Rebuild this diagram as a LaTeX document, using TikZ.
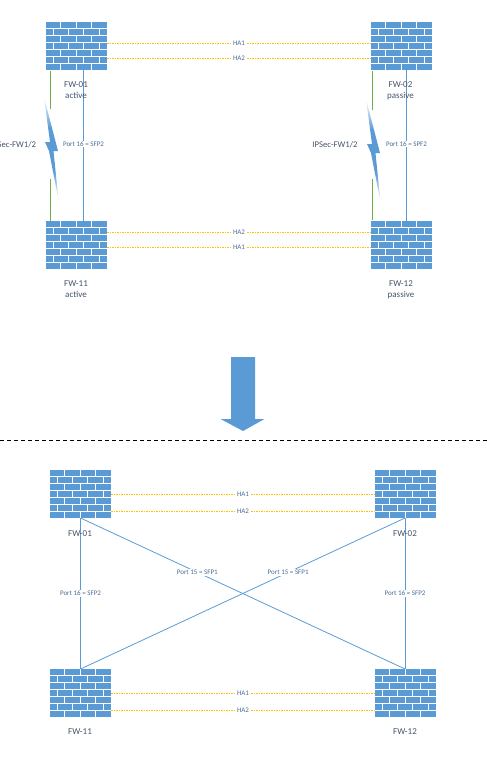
\documentclass[tikz,border=0pt]{standalone}
\usepackage{fontspec}
\setmainfont{Carlito}
\usetikzlibrary{calc}
\definecolor{fwblue}{HTML}{5B9BD5}
\definecolor{hayellow}{HTML}{FFC000}
\definecolor{ipgreen}{HTML}{70AD47}
\definecolor{txt}{HTML}{44546A}
\definecolor{porttxt}{HTML}{4A6E96}
\pgfdeclareverticalshading{boltshade}{100bp}{
  color(0bp)=(white); color(25bp)=(white); color(39bp)=(fwblue); color(60bp)=(fwblue); color(75bp)=(white); color(100bp)=(white)}
\newcommand{\fwbricks}[1]{%
  \begin{scope}[shift={(#1.north west)}]
    \foreach \r in {0,1,...,5} {\draw[brickgap] (0,6.4+7*\r) -- (61,6.4+7*\r);}
    \foreach \r in {0,2,4,6} {\foreach \c in {14.5,30.5,45.5} {\draw[brickgap] (\c,7*\r) -- (\c,6+7*\r);}}
    \foreach \r in {1,3,5} {\foreach \c in {7.5,22.5,37.5,53.5} {\draw[brickgap] (\c,7*\r) -- (\c,6+7*\r);}}
  \end{scope}}
\newcommand{\fwbolt}[1]{%
  \begin{scope}[shift={(#1)}]
    \path[shade,shading=boltshade] (0,0) -- (14,54) -- (9.5,54) -- (14.5,103) -- (5,54) -- (1,45) -- (6,45) -- cycle;
  \end{scope}}
\tikzset{
  fwbox/.style={rectangle,fill=fwblue,minimum width=61pt,minimum height=48pt,inner sep=0pt,outer sep=0pt},
  brickgap/.style={white,line width=0.9pt},
  halink/.style={hayellow,dash pattern=on 1.5pt off 1pt,line width=0.7pt},
  greenlink/.style={ipgreen,line width=0.8pt},
  bluelink/.style={fwblue,line width=0.8pt},
  smalllabel/.style={font=\fontsize{7}{8}\selectfont,text=porttxt,fill=white,inner sep=1pt},
  fwlabel/.style={font=\fontsize{9}{10.5}\selectfont,text=txt,align=center,inner sep=0pt},
  vpnlabel/.style={font=\fontsize{8.7}{11}\selectfont,text=txt,inner sep=0pt},
}
\begin{document}
\begin{tikzpicture}[x=1pt,y=-1pt]
\useasboundingbox (0,0) rectangle (487,758);
% upper section
\node[fwbox] (a1) at (76.5,46) {}; \fwbricks{a1}
\node[fwbox] (a2) at (401.5,46) {}; \fwbricks{a2}
\node[fwbox] (a3) at (76.5,245) {}; \fwbricks{a3}
\node[fwbox] (a4) at (401.5,245) {}; \fwbricks{a4}
\coordinate (g1a) at (50.5,71); \coordinate (g1b) at (50.5,109);
\coordinate (g2a) at (50.5,179); \coordinate (g2b) at (50.5,221);
\coordinate (g3a) at (372.5,71); \coordinate (g3b) at (372.5,110);
\coordinate (g4a) at (372.5,179); \coordinate (g4b) at (372.5,220);
\draw[greenlink] (g1a) -- (g1b);
\draw[greenlink] (g2a) -- (g2b);
\draw[greenlink] (g3a) -- (g3b);
\draw[greenlink] (g4a) -- (g4b);
\draw[bluelink] ([xshift=7pt]a1.south) -- node[smalllabel,pos=0.49]{Port 16 = SFP2} ([xshift=7pt]a3.north);
\draw[bluelink] ([xshift=5pt]a2.south) -- node[smalllabel,pos=0.49]{Port 16 = SPF2} ([xshift=5pt]a4.north);
\draw[halink] ([yshift=3pt]a1.east) -- node[smalllabel]{HA1} ([yshift=3pt]a2.west);
\draw[halink] ([yshift=-12pt]a1.east) -- node[smalllabel]{HA2} ([yshift=-12pt]a2.west);
\draw[halink] ([yshift=13pt]a3.east) -- node[smalllabel]{HA2} ([yshift=13pt]a4.west);
\draw[halink] ([yshift=-2pt]a3.east) -- node[smalllabel]{HA1} ([yshift=-2pt]a4.west);
\fwbolt{44,97}
\fwbolt{366,99}
\node[vpnlabel] (v1) at (13.5,145) {IPSec-FW1/2};
\node[vpnlabel] (v2) at (335,145) {IPSec-FW1/2};
\node[fwlabel] (l1) at (76,90.5) {FW-01\\[0.5pt]active};
\node[fwlabel] (l2) at (400.5,90.5) {FW-02\\[0.5pt]passive};
\node[fwlabel] (l3) at (76,289.5) {FW-11\\[0.5pt]active};
\node[fwlabel] (l4) at (401,289.5) {FW-12\\[0.5pt]passive};
% arrow and divider
\path[fill=fwblue] (231,357) -- (255,357) -- (255,419) -- (264.5,419) -- (243,431) -- (220.5,419) -- (231,419) -- cycle;
\coordinate (d1) at (0,440); \coordinate (d2) at (487,440);
\draw[black,line width=0.8pt,dash pattern=on 4pt off 3pt] (d1) -- (d2);
% lower section
\node[fwbox] (b1) at (80.5,494) {}; \fwbricks{b1}
\node[fwbox] (b2) at (405.5,494) {}; \fwbricks{b2}
\node[fwbox] (b3) at (80.5,693) {}; \fwbricks{b3}
\node[fwbox] (b4) at (405.5,693) {}; \fwbricks{b4}
\draw[bluelink] (b1.south) -- node[smalllabel,pos=0.5]{Port 16 = SFP2} (b3.north);
\draw[bluelink] ([xshift=-0.5pt]b2.south) -- node[smalllabel,pos=0.5]{Port 16 = SFP2} ([xshift=-0.5pt]b4.north);
\draw[bluelink] (b1.south) -- node[smalllabel,pos=0.36]{Port 15 = SFP1} ([xshift=-0.5pt]b4.north);
\draw[bluelink] ([xshift=-0.5pt]b2.south) -- node[smalllabel,pos=0.36]{Port 15 = SFP1} (b3.north);
\draw[halink] (b1.east) -- node[smalllabel]{HA1} (b2.west);
\draw[halink] ([yshift=-17pt]b1.east) -- node[smalllabel]{HA2} ([yshift=-17pt]b2.west);
\draw[halink] (b3.east) -- node[smalllabel]{HA1} (b4.west);
\draw[halink] ([yshift=-17pt]b3.east) -- node[smalllabel]{HA2} ([yshift=-17pt]b4.west);
\node[fwlabel] (m1) at (80,534) {FW-01};
\node[fwlabel] (m2) at (405,534) {FW-02};
\node[fwlabel] (m3) at (80,732) {FW-11};
\node[fwlabel] (m4) at (405,732) {FW-12};
\end{tikzpicture}
\end{document}
